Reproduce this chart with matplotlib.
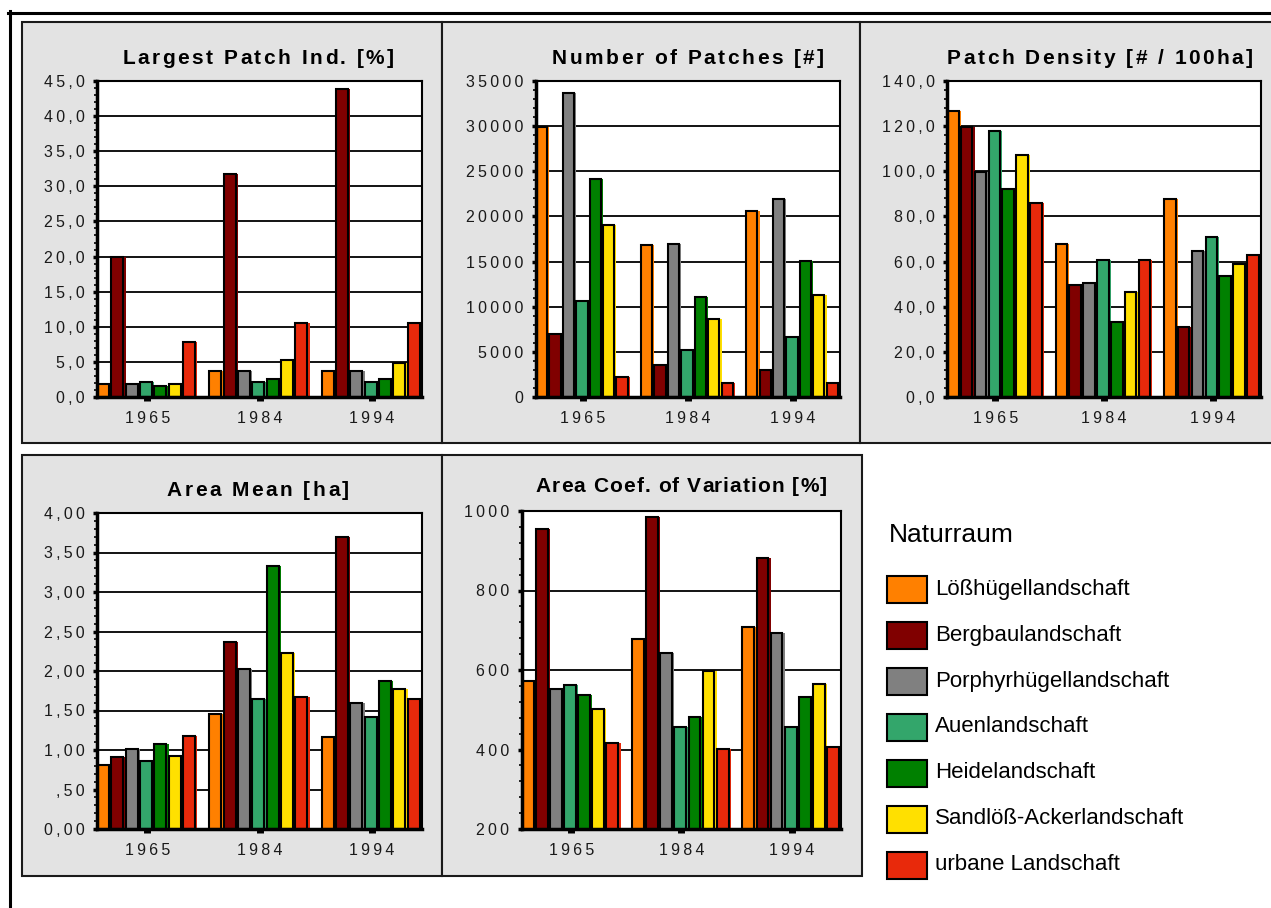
import matplotlib
matplotlib.use('Agg')
import matplotlib.pyplot as plt
import numpy as np
from matplotlib import ticker
from matplotlib.patches import Rectangle
from matplotlib.lines import Line2D
from matplotlib.font_manager import FontProperties

plt.rcParams['font.family'] = ['Liberation Sans', 'DejaVu Sans']

W, H = 1271, 908

years = ['1965', '1984', '1994']
landscapes = ['Lößhügellandschaft', 'Bergbaulandschaft', 'Porphyrhügellandschaft',
              'Auenlandschaft', 'Heidelandschaft', 'Sandlöß-Ackerlandschaft',
              'urbane Landschaft']
colors = ['#ff8000', '#800000', '#808080', '#33a66b', '#008000', '#ffe000', '#e8290b']

# rows = landscapes, columns = years
largest_patch = [
    [1.9, 3.7, 3.7],
    [19.9, 31.8, 43.9],
    [1.9, 3.7, 3.7],
    [2.2, 2.2, 2.2],
    [1.6, 2.5, 2.5],
    [1.9, 5.3, 4.8],
    [7.9, 10.5, 10.5],
]
num_patches = [
    [29900, 16800, 20600],
    [7000, 3500, 3000],
    [33700, 17000, 21900],
    [10600, 5250, 6600],
    [24100, 11050, 15050],
    [19000, 8600, 11250],
    [2200, 1500, 1500],
]
patch_density = [
    [126.7, 68.0, 87.7],
    [119.5, 49.4, 30.8],
    [99.5, 50.3, 64.6],
    [117.7, 60.9, 70.8],
    [92.0, 33.3, 53.8],
    [107.3, 46.7, 59.1],
    [86.0, 60.9, 62.7],
]
area_mean = [
    [0.81, 1.46, 1.16],
    [0.91, 2.37, 3.69],
    [1.01, 2.02, 1.59],
    [0.86, 1.64, 1.42],
    [1.08, 3.33, 1.87],
    [0.93, 2.23, 1.77],
    [1.18, 1.67, 1.64],
]
area_cv = [
    [572, 677, 707],
    [954, 984, 883],
    [552, 643, 693],
    [562, 457, 457],
    [537, 482, 531],
    [502, 597, 566],
    [416, 401, 406],
]

fig = plt.figure(figsize=(W / 100, H / 100), dpi=100)
renderer = fig.canvas.get_renderer()


def fig_rect(x0, y0, x1, y1):
    return [x0 / W, 1 - y1 / H, (x1 - x0) / W, (y1 - y0) / H]


def spaced(s):
    return '\u2009'.join(s)


def dec_formatter(n):
    def f(v, pos):
        s = f"{v:.{n}f}".replace('.', ',')
        if n and 0 < v < 1:
            s = s[1:]
        return spaced(s)
    return ticker.FuncFormatter(f)


def text_w(s, prop):
    w = renderer.get_text_width_height_descent(s + '|', prop, ismath=False)[0]
    w0 = renderer.get_text_width_height_descent('|', prop, ismath=False)[0]
    return w - w0


def tracked_title(cx, base_y, s, size, track):
    prop = FontProperties(family=['Liberation Sans', 'DejaVu Sans'], weight='bold', size=size)
    total = text_w(s, prop) + track * (len(s) - 1)
    x0 = cx - total / 2
    for i, ch in enumerate(s):
        xi = x0 + text_w(s[:i], prop) + i * track
        fig.text(xi / W, 1 - base_y / H, ch, fontproperties=prop,
                 ha='left', va='baseline', color='black')


# outer frame
fig.add_artist(Line2D([9.5 / W, 9.5 / W], [0, 1 - 11 / H], color='black', lw=2.2))
fig.add_artist(Line2D([8 / W, 1], [1 - 12.5 / H, 1 - 12.5 / H], color='black', lw=2.2))

panels = [
    # values, title, ylim, step, decimals, panel box, axes box, title pos, tracking
    (largest_patch, 'Largest Patch Ind. [%]', (0, 45), 5, 1,
     (22, 22, 442, 443), (97, 81, 422, 397), (258, 63.5), 2.5),
    (num_patches, 'Number of Patches [#]', (0, 35000), 5000, 0,
     (442, 22, 860, 443), (536, 81, 840, 397), (688, 63.5), 2.5),
    (patch_density, 'Patch Density [# / 100ha]', (0, 140), 20, 1,
     (860, 22, 1280, 443), (947, 81, 1261, 397), (1100, 63.5), 2.5),
    (area_mean, 'Area Mean [ha]', (0, 4), 0.5, 2,
     (22, 455, 442, 876), (97, 513, 422, 829), (258, 496), 2.5),
    (area_cv, 'Area Coef. of Variation [%]', (200, 1000), 200, 0,
     (442, 455, 862, 876), (522, 511, 841, 829), (681, 492), 1.1),
]

gw = 0.894
bw = gw / len(landscapes)
x = np.arange(len(years))

for values, title, ylim, step, dec, pbox, abox, tpos, track in panels:
    px0, py0, px1, py1 = pbox
    fig.add_artist(Rectangle((px0 / W, 1 - py1 / H), (px1 - px0) / W, (py1 - py0) / H,
                             transform=fig.transFigure, facecolor='#e3e3e3',
                             edgecolor='#1a1a1a', lw=1.5, zorder=-5))
    ax = fig.add_axes(fig_rect(*abox))
    ax.set_facecolor('white')
    for i, (vals, c) in enumerate(zip(values, colors)):
        left = x - gw / 2 + i * bw
        ax.bar(left, vals, width=bw, align='edge', color=c, edgecolor='none', zorder=2)
        ax.bar(left, vals, width=bw * 0.84, align='edge', color=c,
               edgecolor='black', linewidth=1.5, zorder=2)
    ax.set_xlim(-gw / 2, len(years) - 1 + gw / 2)
    ax.set_ylim(*ylim)
    ax.yaxis.set_major_locator(ticker.MultipleLocator(step))
    ax.yaxis.set_minor_locator(ticker.AutoMinorLocator(5))
    ax.yaxis.set_major_formatter(dec_formatter(dec))
    ax.set_xticks(x)
    ax.set_xticklabels([spaced(y) for y in years])
    ax.tick_params(axis='y', which='major', direction='out', length=3, width=2.5,
                   pad=6, labelsize=11.5, color='black', labelcolor='#1a1a1a')
    ax.tick_params(axis='y', which='minor', direction='out', length=2, width=1.2, color='black')
    ax.tick_params(axis='x', direction='out', length=3, width=5, pad=7,
                   labelsize=11.5, color='black', labelcolor='#1a1a1a')
    ax.grid(axis='y', which='major', color='black', linewidth=1.3)
    ax.set_axisbelow(True)
    for side in ['top', 'right']:
        ax.spines[side].set_linewidth(1.5)
    for side in ['left', 'bottom']:
        ax.spines[side].set_linewidth(2.5)
    tracked_title(tpos[0], tpos[1], title, 15, track)

# legend
fig.text(889 / W, 1 - 535 / H, 'Naturraum', fontsize=19, ha='left', va='center', color='black')
for k, (name, c) in enumerate(zip(landscapes, colors)):
    cy = 589 + 46 * k
    fig.add_artist(Rectangle((887 / W, 1 - (cy + 13.5) / H), 40 / W, 27 / H,
                             transform=fig.transFigure, facecolor=c,
                             edgecolor='black', lw=1.5))
    fig.text(935 / W, 1 - cy / H, name, fontsize=16, ha='left', va='center', color='black')

fig.savefig('out.png', dpi=100)
